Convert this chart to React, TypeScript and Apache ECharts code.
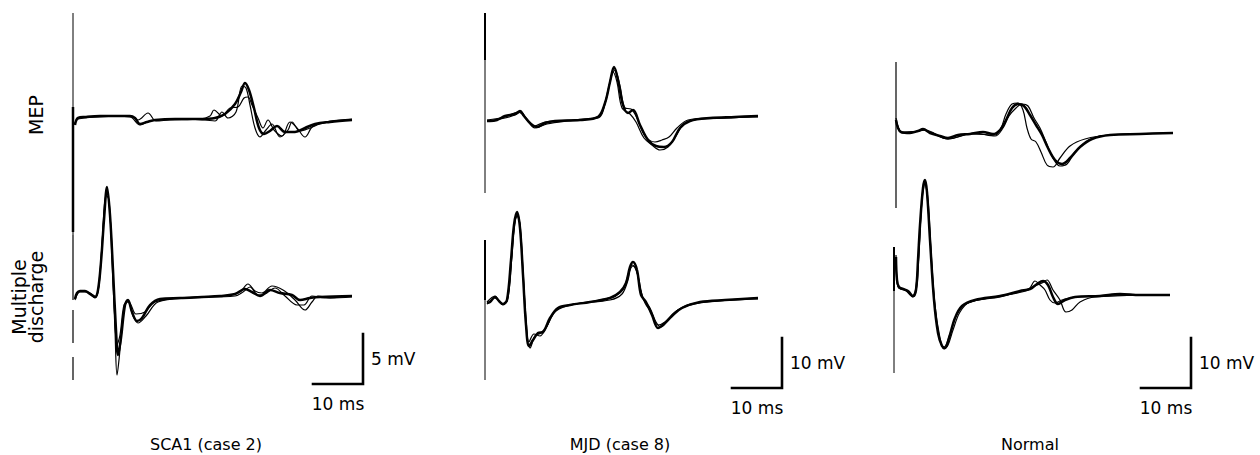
import React, { useEffect, useRef } from "react";
import * as echarts from "echarts";

// ---------- Data (time in ms after stimulus, amplitude in mV) ----------
const panelTitles = ["SCA1 (case 2)", "MJD (case 8)", "Normal"];
const rowLabels = ["MEP", "Multiple\ndischarge"];
const scaleMs = 10;
const scaleMv = [5, 10, 10];

// SCA1 (case 2) – MEP
const sca1MepA = [[0.4,-0.8],[0.6,-0.4],[1.0,-0.1],[2.4,0],[5.4,0.1],[9.4,0.1],[11.4,0.1],[12.4,-0.1],[13.4,-0.7],[14.8,-0.5],[16.4,-0.3],[20.4,-0.2],[25.4,-0.2],[28.4,-0.1],[30.4,0.3],[32.4,1.3],[33.6,2.5],[34.4,3.4],[35.2,2.7],[36.2,0.9],[37.2,-1.1],[38.2,-1.7],[39.4,-1.4],[40.8,-0.9],[42.4,-1.5],[44.4,-1.5],[46.4,-1.1],[48.4,-0.7],[51.4,-0.5],[55.8,-0.3]];
const sca1MepB = [[0.4,-0.6],[1.0,-0.2],[5.4,0],[11.4,0.1],[13,-0.3],[15,0.4],[16.6,-0.4],[19.4,-0.3],[25.4,-0.2],[27.4,0.1],[28.2,0.7],[29.8,0.1],[31.4,0.9],[33,1.0],[34.2,1.9],[35,2.0],[35.8,1.2],[37,-0.1],[38,-1.1],[39,-0.3],[40.2,-1.3],[41.8,-1.9],[43.4,-0.5],[44.8,-1.1],[46.4,-2.0],[47.8,-1.0],[49,-0.7],[51.4,-0.4],[55.8,-0.2]];
const sca1MepC = [[0.4,-0.7],[1.0,-0.1],[5.4,0.1],[11.4,0],[13.4,-0.8],[15.4,-0.4],[21.4,-0.2],[26.4,-0.3],[28.4,-0.4],[29.8,0.5],[31,-0.1],[32.6,0.5],[33.8,3.1],[34.6,2.9],[35.4,1.2],[36.4,-1.1],[37.4,-2],[38.6,-1.3],[39.8,-0.7],[41.4,-2.0],[43,-1.3],[43.8,-0.5],[45.4,-1.4],[47.4,-1.1],[49.4,-0.7],[52.4,-0.4],[55.8,-0.3]];
// SCA1 (case 2) – multiple discharge
const sca1MdA = [[0.4,-0.2],[0.8,0.4],[1.4,0.6],[2.4,0.6],[3.4,0.3],[4.4,0],[5.0,0.7],[5.6,3.5],[6.2,7.7],[6.8,11],[7.4,8.2],[8,2.7],[8.6,-3.3],[9,-5.8],[9.6,-4.1],[10.4,-0.8],[11,-0.3],[11.8,-1.5],[12.8,-2.4],[13.8,-2.1],[15.4,-0.8],[17.4,-0.2],[21.4,-0.1],[29.4,0.1],[32.4,0.3],[34.4,0.8],[35.8,0.5],[37.4,0.1],[39.4,0.7],[41.4,0.4],[43.8,0.2],[45.4,-0.3],[47.4,-0.1],[49.4,0],[55.8,0.1]];
const sca1MdB = [[0.4,-0.3],[1.4,0.5],[3,0.5],[4.4,-0.1],[5.2,1.2],[5.8,5.2],[6.6,10.2],[7.2,9.7],[7.8,3.7],[8.4,-3.3],[8.8,-7.8],[9.4,-5.3],[10.2,-1.3],[10.8,-0.3],[11.6,-0.8],[12.6,-1.7],[14.4,-1.5],[16.4,-0.5],[21.4,-0.1],[31.4,0.2],[33.4,0.5],[35,1.3],[36.4,0.6],[37.8,0.4],[39.8,1.1],[42,0.7],[44.4,-0.3],[46.4,-1.3],[47.8,-0.5],[49,0.1],[51.4,-0.1],[55.8,0]];
const sca1MdC = [[0.4,-0.2],[1.4,0.6],[3.4,0.4],[4.6,0],[5.4,2.5],[6.2,8.2],[6.8,10.7],[7.6,6.7],[8.2,-0.3],[8.8,-4.8],[9.4,-3.8],[10.2,-0.8],[11,-0.5],[12,-1.9],[13,-2.6],[14.6,-1.9],[17,-0.5],[23.4,-0.1],[32.4,0.1],[34,0.5],[35.4,1.0],[37,0.2],[38.4,0.3],[40.4,0.9],[42.4,0.1],[44.8,-0.8],[46.2,-0.8],[47.8,0.1],[50.4,-0.1],[55.8,0.1]];

// MJD (case 8) – MEP
const mjdMepA = [[0.4,-0.4],[1,-0.4],[2.4,-0.2],[4,0.6],[6,1.0],[7,1.6],[7.8,0.6],[9,-0.8],[10.4,-1.6],[12,-0.8],[14,-0.4],[19,-0.2],[22.6,0.4],[24,3.2],[25,7.4],[25.8,10.4],[26.6,7.8],[27.6,2.8],[28.6,1.2],[29.6,1.8],[31,-1.2],[32.6,-4.2],[34.2,-5.4],[35.8,-5.6],[37.4,-4.6],[39,-1.8],[41,-0.4],[45,0.2],[50,0.4],[54.6,0.6]];
const mjdMepB = [[0.4,-0.2],[4,0.4],[6.6,1.4],[8.2,0.2],[9.8,-1.4],[12,-0.6],[17,-0.2],[22.6,0.2],[24.2,3.8],[25.2,8.2],[26,9.8],[27,6.6],[28,2.2],[29.2,2],[30.4,0.2],[32,-3.4],[34,-4.6],[35.4,-4.2],[36.8,-3.6],[38.4,-1.8],[40.6,-0.2],[46,0.2],[54.6,0.4]];
const mjdMepC = [[0.4,-0.4],[4,0.2],[6,0.8],[7.2,1.4],[8.4,-0.2],[10,-1.8],[12.4,-1],[18,-0.2],[22.8,0.6],[23.8,2.6],[24.8,6.6],[25.6,9.4],[26.4,7.4],[27.4,2.2],[29,1],[30.2,-0.6],[31.8,-3.8],[33.4,-5.2],[35,-6.2],[36.6,-5.6],[38.2,-3.4],[39.8,-1],[43,0],[49,0.2],[54.6,0.6]];
// MJD (case 8) – multiple discharge
const mjdMdA = [[0.4,-0.6],[1,-0.4],[2,0.6],[2.8,-0.2],[3.6,-0.8],[4.4,0],[5.2,8],[5.8,15],[6.4,17.6],[7,14.4],[7.6,5],[8.2,-5],[8.8,-9.2],[9.6,-8],[10.6,-6.6],[11.6,-6.4],[13,-3.6],[14.6,-1.6],[17,-1],[21,-0.4],[25,0.4],[27,1.6],[28.2,3.4],[29,6.6],[29.6,7.6],[30.4,6],[31.2,1],[32.2,-0.4],[33.4,-3],[34.6,-5.6],[35.8,-4.8],[37.4,-3.2],[39.4,-1.6],[43,-0.4],[48,0],[54.6,0.4]];
const mjdMdB = [[0.4,-0.8],[2,0.4],[3.6,-1],[4.6,0.4],[5.4,9],[6,16],[6.6,17],[7.2,12],[7.8,2],[8.4,-7],[9,-9.6],[10,-7.2],[11.2,-6.6],[12.4,-5.2],[13.8,-2.4],[16,-1.2],[23,0],[26,0.8],[27.8,2.4],[28.8,5.6],[29.6,6.8],[30.6,4.8],[31.6,0.4],[33,-1.6],[34.2,-4.4],[35.2,-5.4],[36.6,-4],[38.6,-2],[43,-0.6],[54.6,0.2]];
const mjdMdC = [[0.4,-0.4],[2,0.8],[3.4,-0.8],[4.4,-0.2],[5.2,7],[5.8,14],[6.4,16.8],[7,15.2],[7.6,6],[8.2,-3.6],[8.8,-8.4],[9.8,-6.8],[11,-7.2],[12.2,-5.6],[14.2,-2.2],[18,-0.8],[25,0],[27.4,1.2],[28.6,4],[29.4,7],[30.2,6.4],[31,2.4],[32,-0.6],[33.2,-2.4],[34.6,-5],[36,-4.4],[38,-2.4],[41,-0.8],[54.6,0.4]];

// Normal – MEP
const normMepA = [[0.2,2.6],[0.6,1],[1.2,0.2],[3,0],[4.6,0.4],[5.6,0.8],[7,0],[9,-0.6],[10.6,-1],[12.6,-0.4],[15,-0.2],[17.6,0.2],[19.6,-0.2],[21,0.6],[22.2,2.6],[23.4,5],[24.6,5.8],[25.8,5.4],[27,3.6],[28.2,1.6],[29.4,-0.4],[30.6,-3],[32,-5.4],[33.4,-6.2],[35,-5],[37,-2.8],[39.4,-1.2],[43,-0.4],[49,-0.2],[55.6,0]];
const normMepB = [[0.2,3],[0.6,1.2],[1.2,0.2],[4.6,0.4],[5.6,0.6],[10.6,-1.2],[15,-0.2],[20,-0.4],[21.2,1],[22.2,3.8],[23.4,5.8],[24.6,6],[25.6,4.6],[26.4,1],[27.2,-1.2],[28.2,-1.8],[29.2,-3.8],[30.4,-6.4],[31.6,-6.8],[33,-5],[35,-2.6],[38,-1.2],[43,-0.4],[55.6,0]];
const normMepC = [[0.2,2.4],[0.8,0.8],[1.4,0],[5,0.4],[6,0.6],[10.6,-1.2],[16,0],[20,-0.6],[21.6,1],[22.8,3.4],[24.2,5],[25.4,5.8],[26.6,5.4],[27.8,3],[29,1],[30.2,-1.8],[31.6,-5],[33,-6.6],[34.4,-6.2],[36,-3.8],[38.2,-1.8],[41,-0.6],[47,-0.2],[55.6,0]];
// Normal – multiple discharge
const normMdA = [[0.2,7.8],[0.4,3.2],[0.8,1.8],[1.6,1.4],[2.6,1],[3.6,0],[4.2,1.2],[4.6,7.2],[5,14.2],[5.6,21.6],[6,23.2],[6.4,20.8],[7,11.2],[7.8,-0.8],[8.6,-7.4],[9.4,-10],[10,-10.4],[10.8,-8.4],[12,-4.4],[13.4,-2],[16,-0.8],[21,0],[25,1],[27,1.4],[28.4,2.4],[29.6,3],[30.6,2.2],[31.6,-0.2],[32.6,-1.6],[34,-0.8],[36,-0.2],[41,0],[45,0.4],[49,0.2],[55,0.2]];
const normMdB = [[0.2,8.2],[0.4,3],[0.8,1.6],[2,1.2],[3.6,-0.2],[4.4,2.2],[4.8,9.2],[5.4,19.2],[6,22.4],[6.6,19.2],[7.2,9.2],[8,-1.8],[9,-8.4],[9.8,-10.6],[10.6,-9.8],[11.6,-6.8],[13,-3.2],[15,-1.2],[21,-0.2],[26,1.2],[28,2],[29.4,2.6],[30.4,3.2],[31.6,1.2],[33,-0.8],[34.2,-3.2],[35.4,-2.8],[37,-1.2],[40,-0.2],[55,0.2]];
const normMdC = [[0.2,7.6],[0.4,2.8],[0.8,1.6],[2.4,1],[3.6,0],[4.6,6],[5.2,16.2],[5.8,22.4],[6.2,22],[6.8,15.2],[7.6,2.2],[8.4,-5.8],[9.2,-9.6],[9.8,-10.2],[11,-7.6],[12.4,-3.6],[14.6,-1.4],[21,0],[26.6,1.2],[28,3],[29,2.2],[30,1.2],[31,-0.8],[32,-1.4],[33.4,-0.8],[36,-0.2],[55,0.2]];

// Stimulus artifacts (vertical deflection at stimulus time)
const sca1MepArtifact = [[0, 10.4], [0, -11.8]];
const sca1MepArtifactThick = [[0, 1.0], [0, -11.5]];
const sca1MdArtifact = [[0, 6.2], [0, -0.3], [0, "-"], [0, -1.3], [0, -4.6], [0, "-"], [0, -6.0], [0, -8.3]];
const mjdMepArtifact = [[0, 21.2], [0, -14.8]];
const mjdMepArtifactThick = [[0, 21.2], [0, 11.8]];
const mjdMdArtifact = [[0, 12], [0, -16]];
const mjdMdArtifactThick = [[0, 12], [0, 0]];
const normMepArtifact = [[0.2, 14.2], [0.2, -15]];
const normMdArtifact = [[-0.2, 9.8], [-0.2, -15.4]];
const normMdArtifactThick = [[-0.2, 9.8], [-0.2, 1]];

// ---------- Layout ----------
const FONT = '"DejaVu Sans", sans-serif';
const colLeft = [68, 480, 890];
const traceGrids = [
  { left: colLeft[0], top: 17, height: 220, min: -12, max: 10 },
  { left: colLeft[0], top: 177, height: 240, min: -12, max: 12 },
  { left: colLeft[1], top: 19, height: 200, min: -20, max: 20 },
  { left: colLeft[1], top: 180, height: 240, min: -24, max: 24 },
  { left: colLeft[2], top: 33, height: 200, min: -20, max: 20 },
  { left: colLeft[2], top: 176, height: 240, min: -24, max: 24 },
];
const scaleGrids = [
  { left: 313, top: 334 },
  { left: 732, top: 338 },
  { left: 1141, top: 338 },
];

const panelTraces = [
  [sca1MepA, sca1MepB, sca1MepC],
  [sca1MdA, sca1MdB, sca1MdC],
  [mjdMepA, mjdMepB, mjdMepC],
  [mjdMdA, mjdMdB, mjdMdC],
  [normMepA, normMepB, normMepC],
  [normMdA, normMdB, normMdC],
];
const panelArtifacts = [
  [[sca1MepArtifact, 1], [sca1MepArtifactThick, 2.5]],
  [[sca1MdArtifact, 1.2]],
  [[mjdMepArtifact, 1], [mjdMepArtifactThick, 2]],
  [[mjdMdArtifact, 1], [mjdMdArtifactThick, 2]],
  [[normMepArtifact, 1.2]],
  [[normMdArtifact, 1], [normMdArtifactThick, 2]],
];
const traceWidths = [2.5, 1.2, 1.2];

function buildOption() {
  const grid: any[] = [];
  const xAxis: any[] = [];
  const yAxis: any[] = [];
  const series: any[] = [];

  traceGrids.forEach((g, i) => {
    grid.push({ left: g.left, top: g.top, width: 305, height: g.height });
    xAxis.push({ type: "value", gridIndex: i, min: -1, max: 60, show: false });
    yAxis.push({ type: "value", gridIndex: i, min: g.min, max: g.max, show: false });
    panelTraces[i].forEach((d, k) => {
      series.push({
        type: "line",
        xAxisIndex: i,
        yAxisIndex: i,
        data: d,
        smooth: 0.35,
        symbol: "none",
        clip: false,
        lineStyle: { color: "#000", width: traceWidths[k] },
        silent: true,
      });
    });
    panelArtifacts[i].forEach(([d, w]: any) => {
      series.push({
        type: "line",
        xAxisIndex: i,
        yAxisIndex: i,
        data: d,
        symbol: "none",
        clip: false,
        lineStyle: { color: "#000", width: w },
        silent: true,
      });
    });
  });

  scaleGrids.forEach((s, c) => {
    const idx = traceGrids.length + c;
    grid.push({ left: s.left, top: s.top, width: 50, height: 50 });
    xAxis.push({
      type: "value",
      gridIndex: idx,
      min: 0,
      max: scaleMs,
      axisLine: { show: false },
      axisTick: { show: false },
      axisLabel: { show: false },
      splitLine: { show: false },
      name: `${scaleMs} ms`,
      nameLocation: "middle",
      nameGap: 11,
      nameTextStyle: { color: "#000", fontSize: 17, fontFamily: FONT },
    });
    yAxis.push({
      type: "value",
      gridIndex: idx,
      position: "right",
      min: 0,
      max: scaleMv[c],
      axisLine: { show: false },
      axisTick: { show: false },
      axisLabel: { show: false },
      splitLine: { show: false },
      name: `${scaleMv[c]} mV`,
      nameLocation: "middle",
      nameRotate: 0,
      nameGap: 8,
      nameTextStyle: { color: "#000", fontSize: 17, fontFamily: FONT, align: "left", verticalAlign: "middle" },
    });
    series.push({
      type: "line",
      xAxisIndex: idx,
      yAxisIndex: idx,
      data: [[0, 0], [scaleMs, 0], [scaleMs, scaleMv[c]]],
      symbol: "none",
      clip: false,
      lineStyle: { color: "#000", width: 2.6, cap: "square", join: "miter" },
      silent: true,
    });
  });

  const titleX = [206, 620, 1030];
  const graphic: any[] = panelTitles.map((t, i) => ({
    type: "text",
    x: titleX[i],
    y: 444,
    style: { text: t, fill: "#000", fontSize: 16, fontFamily: FONT, align: "center", verticalAlign: "middle" },
  }));
  graphic.push({
    type: "text",
    x: 36,
    y: 115,
    rotation: Math.PI / 2,
    style: { text: rowLabels[0], fill: "#000", fontSize: 19, fontFamily: FONT, align: "center", verticalAlign: "middle" },
  });
  graphic.push({
    type: "text",
    x: 27,
    y: 297,
    rotation: Math.PI / 2,
    style: { text: rowLabels[1], fill: "#000", fontSize: 19, fontFamily: FONT, align: "center", verticalAlign: "middle", lineHeight: 17 },
  });

  return {
    animation: false,
    backgroundColor: "#fff",
    textStyle: { fontFamily: FONT },
    grid,
    xAxis,
    yAxis,
    series,
    graphic,
  };
}

export default function App() {
  const ref = useRef<HTMLDivElement>(null);
  useEffect(() => {
    if (!ref.current) return;
    const chart = echarts.init(ref.current, null, { renderer: "svg" });
    chart.setOption(buildOption() as any);
    return () => chart.dispose();
  }, []);
  return (
    <div
      ref={ref}
      style={{ position: "absolute", left: 0, top: 0, width: 1260, height: 455, background: "#fff" }}
    />
  );
}
